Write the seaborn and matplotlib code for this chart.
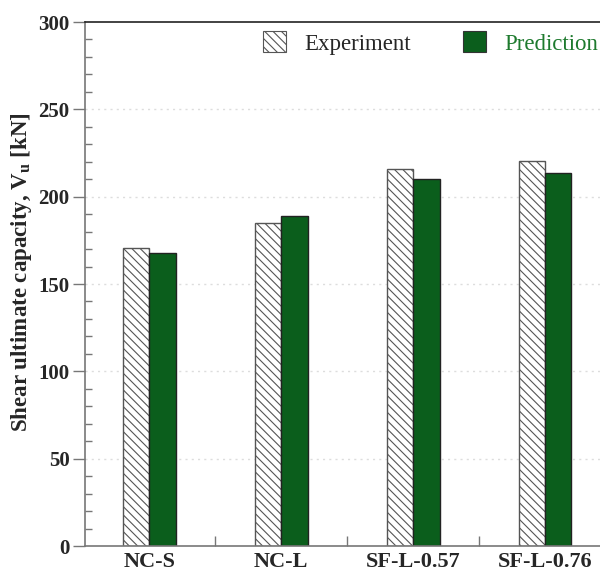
import matplotlib
matplotlib.use("Agg")
import matplotlib.pyplot as plt
from matplotlib.patches import Patch
from matplotlib.ticker import MultipleLocator, FixedLocator, NullFormatter
import seaborn as sns
import pandas as pd

specimens = ["NC-S", "NC-L", "SF-L-0.57", "SF-L-0.76"]
experiment = [170.4, 185.1, 216.0, 220.6]
prediction = [167.5, 189.1, 209.9, 213.5]
series = ["Experiment", "Prediction"]

GREEN = "#0b5e1c"

df = pd.DataFrame({
    "specimen": specimens * 2,
    "source": [series[0]] * len(specimens) + [series[1]] * len(specimens),
    "Vu": experiment + prediction,
})

sns.set_style("ticks")
plt.rcParams["font.family"] = ["Liberation Serif", "DejaVu Serif"]
plt.rcParams["mathtext.fontset"] = "custom"
plt.rcParams["mathtext.rm"] = "Liberation Serif"
plt.rcParams["hatch.linewidth"] = 0.8

fig = plt.figure(figsize=(6.0, 5.73), dpi=100)
ax = fig.add_axes([85 / 600, 1 - 546 / 573, 526 / 600, (546 - 22) / 573])

sns.barplot(data=df, x="specimen", y="Vu", hue="source", order=specimens,
            hue_order=series, palette={series[0]: "white", series[1]: GREEN},
            saturation=1, width=0.4, gap=0, edgecolor="#222222", linewidth=1.0,
            legend=False, ax=ax, errorbar=None)

n = len(specimens)
for i, bar in enumerate(ax.patches[:2 * n]):
    if i < n:
        bar.set_hatch("\\\\\\\\")
        bar.set_edgecolor("#555555")
        bar.set_facecolor("white")

ax.set_xlim(-0.488, 3.5)
ax.set_ylim(0, 300)

# y axis: major ticks outward, minor ticks inward
ax.yaxis.set_major_locator(MultipleLocator(50))
ax.yaxis.set_minor_locator(MultipleLocator(10))
ax.tick_params(axis="y", which="major", direction="out", length=9, width=1.0,
               color="#777777", labelsize=15, pad=2)
ax.tick_params(axis="y", which="minor", direction="in", length=5, width=1.0,
               color="#777777")
for lbl in ax.get_yticklabels():
    lbl.set_fontweight("bold")

# x axis: small ticks between groups, labels at group centres
ax.xaxis.set_major_locator(FixedLocator([0.5, 1.5, 2.5]))
ax.xaxis.set_major_formatter(NullFormatter())
ax.xaxis.set_minor_locator(FixedLocator(range(n)))
ax.set_xticks(range(n), specimens, minor=True)
ax.tick_params(axis="x", which="major", direction="in", length=7, width=1.0,
               color="#777777")
ax.tick_params(axis="x", which="minor", length=0, labelsize=16, pad=4)
for lbl in ax.get_xticklabels(minor=True):
    lbl.set_fontweight("bold")

ax.set_xlabel("")
ax.set_ylabel(r"Shear ultimate capacity, V$_\mathregular{u}$ [kN]",
              fontsize=16.5, fontweight="bold")
ax.yaxis.set_label_coords((34 - 85) / 526, (546 - 272) / 524)

for y in range(50, 300, 50):
    ax.axhline(y, color="#dddddd", linestyle=(0, (1.5, 3)), linewidth=1.0, zorder=0)

for side in ("left", "bottom"):
    ax.spines[side].set_color("#777777")
    ax.spines[side].set_linewidth(1.2)
ax.spines["top"].set_color("#222222")
ax.spines["top"].set_linewidth(1.2)
ax.spines["right"].set_visible(False)

handles = [
    Patch(facecolor="white", edgecolor="#555555", hatch="\\\\\\\\", linewidth=0.8),
    Patch(facecolor=GREEN, edgecolor="#333333", linewidth=0.8),
]
leg = fig.legend(handles, series, ncol=2, frameon=False, fontsize=16.5,
                 loc="center left", bbox_to_anchor=(245 / 600, 1 - 43 / 573),
                 handlelength=1.0, handleheight=1.0, handletextpad=0.78,
                 columnspacing=2.3, borderpad=0.3)
leg.get_texts()[1].set_color("#1e7a2e")

fig.savefig("out.png", dpi=100)
